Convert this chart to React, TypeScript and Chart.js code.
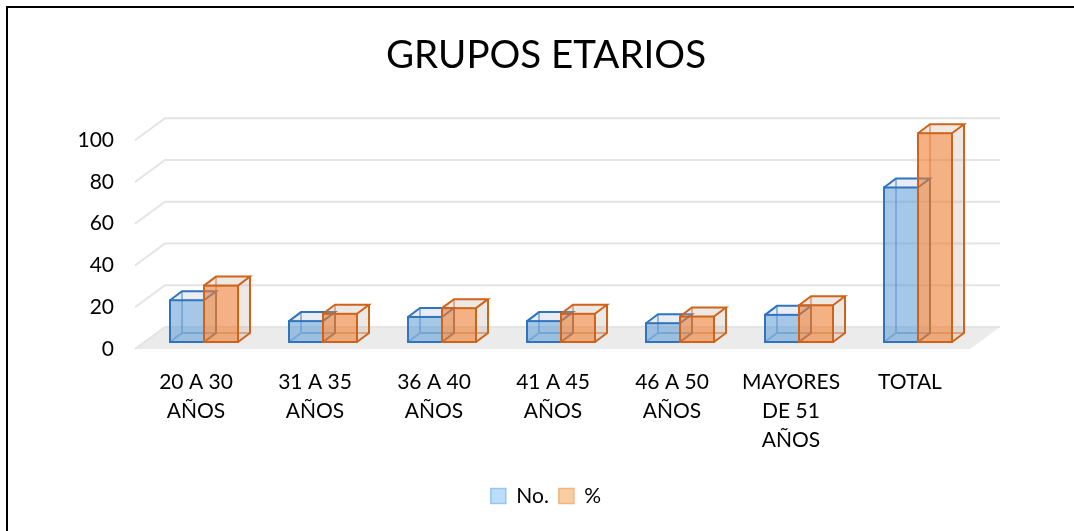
import React, { useEffect, useRef } from 'react';
import { Chart, registerables } from 'chart.js';

Chart.register(...registerables);

const chartTitle = 'GRUPOS ETARIOS';
const categories: (string | string[])[] = [
  ['20 A 30', 'AÑOS'],
  ['31 A 35', 'AÑOS'],
  ['36 A 40', 'AÑOS'],
  ['41 A 45', 'AÑOS'],
  ['46 A 50', 'AÑOS'],
  ['MAYORES', 'DE 51', 'AÑOS'],
  'TOTAL',
];
const seriesNames = ['No.', '%'];
const countValues = [20, 10, 12, 10, 9, 13, 74];
const percentValues = [27.0, 13.5, 16.2, 13.5, 12.2, 17.6, 100];
const yTickValues = [0, 20, 40, 60, 80, 100];

const FONT = 'Lato, "Open Sans", sans-serif';

const frontFill = ['rgba(91,155,213,0.55)', 'rgba(237,125,49,0.6)'];
const edgeColor = ['#2f74bd', '#d0631a'];
const faceFill = ['rgba(175,190,212,0.28)', 'rgba(200,178,168,0.3)'];
const legendFill = ['#b9ddfa', '#f9cda2'];
const legendStroke = ['#98c6ee', '#f3b481'];

// 3D geometry offsets (pixels)
const DEPTH_DX = 12;
const DEPTH_DY = -9;
const FLOOR_FRONT_DY = 7;
const WALL_DX = 30;
const WALL_DY = -22;
const FLOOR_LEFT_DX = -9.5;
const FLOOR_RIGHT_DX = -7.5;

function barRect(el: any) {
  const p = el.getProps(['x', 'y', 'base', 'width'], true);
  return {
    L: p.x - p.width / 2,
    R: p.x + p.width / 2,
    T: Math.min(p.y, p.base),
    B: Math.max(p.y, p.base),
  };
}

const threeDPlugin = {
  id: 'threeD',
  beforeDatasetsDraw(chart: any) {
    const { ctx, chartArea: a, scales } = chart;
    const ys = scales.y;
    const fl = a.left + FLOOR_LEFT_DX;
    const fr = a.right + FLOOR_RIGHT_DX;
    ctx.save();
    // floor
    const f0 = ys.getPixelForValue(0) + FLOOR_FRONT_DY;
    ctx.fillStyle = '#ebebeb';
    ctx.beginPath();
    ctx.moveTo(fl, f0);
    ctx.lineTo(fr, f0);
    ctx.lineTo(fr + WALL_DX, f0 + WALL_DY);
    ctx.lineTo(fl + WALL_DX, f0 + WALL_DY);
    ctx.closePath();
    ctx.fill();
    // gridlines on side and back walls
    ctx.strokeStyle = '#e4e4e4';
    ctx.lineWidth = 2;
    ys.ticks.forEach((t: any) => {
      const py = ys.getPixelForValue(t.value) + FLOOR_FRONT_DY;
      ctx.beginPath();
      ctx.moveTo(fl, py);
      ctx.lineTo(fl + WALL_DX, py + WALL_DY);
      ctx.lineTo(fr + WALL_DX, py + WALL_DY);
      ctx.stroke();
    });
    // bar side / top faces and hidden edges
    chart.data.datasets.forEach((_ds: any, i: number) => {
      const meta = chart.getDatasetMeta(i);
      meta.data.forEach((el: any) => {
        const { L, R, T, B } = barRect(el);
        const dx = DEPTH_DX;
        const dy = DEPTH_DY;
        ctx.fillStyle = faceFill[i];
        ctx.beginPath();
        ctx.moveTo(R, T);
        ctx.lineTo(R + dx, T + dy);
        ctx.lineTo(R + dx, B + dy);
        ctx.lineTo(R, B);
        ctx.closePath();
        ctx.fill();
        ctx.beginPath();
        ctx.moveTo(L, T);
        ctx.lineTo(R, T);
        ctx.lineTo(R + dx, T + dy);
        ctx.lineTo(L + dx, T + dy);
        ctx.closePath();
        ctx.fill();
        ctx.lineWidth = 2;
        ctx.strokeStyle = edgeColor[i];
        ctx.globalAlpha = 0.45;
        ctx.beginPath();
        ctx.moveTo(L, B);
        ctx.lineTo(L + dx, B + dy);
        ctx.lineTo(R + dx, B + dy);
        ctx.moveTo(L + dx, B + dy);
        ctx.lineTo(L + dx, T + dy);
        ctx.stroke();
        ctx.globalAlpha = 1;
        ctx.beginPath();
        ctx.moveTo(L, T);
        ctx.lineTo(L + dx, T + dy);
        ctx.lineTo(R + dx, T + dy);
        ctx.lineTo(R, T);
        ctx.moveTo(R + dx, T + dy);
        ctx.lineTo(R + dx, B + dy);
        ctx.lineTo(R, B);
        ctx.stroke();
      });
    });
    ctx.restore();
  },
  afterDatasetsDraw(chart: any) {
    const { ctx } = chart;
    ctx.save();
    ctx.lineWidth = 2;
    chart.data.datasets.forEach((_ds: any, i: number) => {
      const meta = chart.getDatasetMeta(i);
      ctx.strokeStyle = edgeColor[i];
      meta.data.forEach((el: any) => {
        const { L, R, T, B } = barRect(el);
        ctx.strokeRect(L, T, R - L, B - T);
      });
    });
    ctx.restore();
  },
  afterDraw(chart: any) {
    const { ctx, width, height } = chart;
    ctx.save();
    ctx.strokeStyle = '#000';
    ctx.lineWidth = 2;
    ctx.beginPath();
    ctx.moveTo(7, height);
    ctx.lineTo(7, 7);
    ctx.lineTo(width, 7);
    ctx.stroke();
    ctx.restore();
  },
};

export default function App() {
  const ref = useRef<HTMLCanvasElement | null>(null);
  useEffect(() => {
    if (!ref.current) return;
    const chart = new Chart(ref.current, {
      type: 'bar',
      data: {
        labels: categories,
        datasets: [
          {
            label: seriesNames[0],
            data: countValues,
            backgroundColor: frontFill[0],
            borderWidth: 0,
            categoryPercentage: 0.5714,
            barPercentage: 1,
          },
          {
            label: seriesNames[1],
            data: percentValues,
            backgroundColor: frontFill[1],
            borderWidth: 0,
            categoryPercentage: 0.5714,
            barPercentage: 1,
          },
        ],
      },
      options: {
        responsive: false,
        animation: false,
        layout: { padding: { left: 18, right: 0, top: 0, bottom: 14.5 } },
        plugins: {
          title: {
            display: true,
            text: chartTitle,
            color: '#000',
            font: { family: FONT, size: 38.5, weight: 'normal' },
            padding: { top: 32, bottom: 55 },
          },
          legend: {
            position: 'bottom',
            labels: {
              color: '#000',
              font: { family: FONT, size: 21 },
              boxWidth: 15,
              boxHeight: 15,
              padding: 10,
              generateLabels: () =>
                seriesNames.map((n, i) => ({
                  text: n,
                  fillStyle: legendFill[i],
                  strokeStyle: legendStroke[i],
                  lineWidth: 1.5,
                  datasetIndex: i,
                  hidden: false,
                  fontColor: '#000',
                })),
            },
          },
          tooltip: { enabled: false },
        },
        scales: {
          x: {
            grid: { display: false },
            border: { display: false },
            ticks: {
              color: '#000',
              font: { family: FONT, size: 21, lineHeight: 1.38 },
              padding: 17.5,
              labelOffset: -8,
              maxRotation: 0,
              autoSkip: false,
            },
            afterFit: (s: any) => {
              s.height = 133.5;
            },
          },
          y: {
            min: 0,
            max: 100,
            grid: { display: false },
            border: { display: false },
            afterBuildTicks: (s: any) => {
              s.ticks = yTickValues.map((v) => ({ value: v }));
            },
            ticks: {
              color: '#000',
              font: { family: FONT, size: 21 },
              padding: 22.5,
              labelOffset: 7,
            },
            afterFit: (s: any) => {
              s.width = 126.5;
            },
          },
          yR: {
            type: 'linear',
            position: 'right',
            display: true,
            grid: { display: false },
            border: { display: false },
            ticks: { display: false },
            afterFit: (s: any) => {
              s.width = 96.5;
            },
          },
        },
      },
      plugins: [threeDPlugin],
    } as any);
    return () => chart.destroy();
  }, []);
  return (
    <div style={{ position: 'absolute', left: 0, top: 0, width: 1074, height: 531, background: '#fff' }}>
      <canvas ref={ref} width={1074} height={531} style={{ display: 'block' }} />
    </div>
  );
}
